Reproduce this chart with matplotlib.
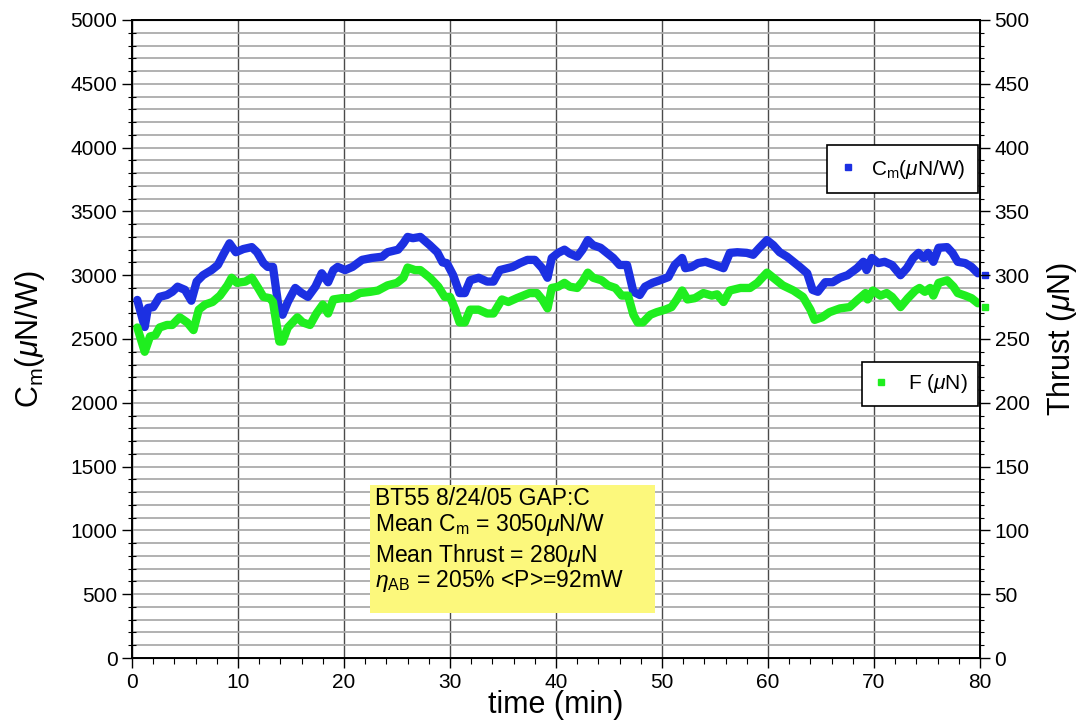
import numpy as np
import matplotlib
matplotlib.use('Agg')
import matplotlib.pyplot as plt
from matplotlib.lines import Line2D
from matplotlib.patches import Rectangle
from matplotlib.ticker import MultipleLocator

plt.rcParams['font.family'] = ['Liberation Sans', 'DejaVu Sans']
plt.rcParams['mathtext.fontset'] = 'custom'
plt.rcParams['mathtext.rm'] = 'Liberation Sans'
plt.rcParams['mathtext.it'] = 'Liberation Sans:italic'

# C_m (uN/W) vs time (min)
cm_time = [0.5, 1.2, 1.5, 2.0, 2.6, 3.3, 3.8, 4.3, 5.0, 5.6, 6.1, 6.7, 7.5, 8.1, 8.6, 9.2, 9.8,
           10.5, 11.3, 11.8, 12.4, 12.8, 13.3, 13.8, 14.2, 14.7, 15.4, 16.0, 16.6, 17.3, 17.9,
           18.5, 19.0, 19.4, 20.1, 20.8, 21.7, 22.6, 23.6, 24.1, 25.1, 25.6, 26.0, 26.5, 27.2,
           28.1, 28.8, 29.3, 29.7, 30.3, 30.9, 31.4, 31.9, 32.7, 33.5, 34.1, 34.7, 35.4, 35.9,
           36.6, 37.3, 38.0, 38.7, 39.2, 39.6, 40.2, 40.8, 41.3, 42.0, 42.5, 43.0, 43.5, 44.2,
           44.8, 45.4, 46.0, 46.7, 47.3, 47.9, 48.4, 49.1, 49.8, 50.6, 51.2, 51.9, 52.2, 52.8,
           53.4, 54.1, 55.0, 55.8, 56.4, 57.1, 58.0, 58.6, 59.2, 59.9, 60.5, 61.1, 61.8, 62.4,
           63.0, 63.7, 64.2, 64.7, 65.4, 66.1, 66.8, 67.5, 68.4, 69.0, 69.3, 69.8, 70.4, 71.0,
           71.7, 72.5, 73.1, 73.7, 74.2, 74.7, 75.1, 75.6, 76.1, 76.9, 77.4, 77.9, 78.6, 79.2, 79.8]
cm_vals = [2806, 2594, 2743, 2750, 2830, 2845, 2870, 2910, 2885, 2800, 2950, 3000, 3040, 3080, 3160, 3250, 3180,
           3205, 3220, 3180, 3095, 3065, 3065, 2765, 2690, 2790, 2900, 2860, 2830, 2910, 3015,
           2945, 3040, 3065, 3040, 3065, 3120, 3135, 3145, 3180, 3200, 3250, 3300, 3290, 3300,
           3235, 3180, 3100, 3095, 3000, 2860, 2860, 2960, 2980, 2950, 2950, 3040, 3055, 3065,
           3095, 3120, 3120, 3055, 2980, 3135, 3175, 3200, 3170, 3145, 3200, 3275, 3235, 3215,
           3175, 3135, 3080, 3080, 2870, 2845, 2910, 2940, 2960, 2985, 3080, 3135, 3055, 3065,
           3095, 3105, 3080, 3055, 3175, 3180, 3175, 3160, 3215, 3275, 3235, 3180, 3145, 3105,
           3065, 3015, 2885, 2870, 2945, 2945, 2980, 3000, 3055, 3105, 3040, 3135, 3095, 3105,
           3080, 3000, 3055, 3135, 3175, 3135, 3175, 3105, 3215, 3220, 3175, 3105, 3095, 3065, 3015]

# thrust F (uN) vs time (min)
f_time = [0.5, 1.2, 1.7, 2.2, 2.6, 3.3, 3.8, 4.5, 5.2, 5.8, 6.3, 6.9, 7.6, 8.3, 9.0, 9.4, 9.9,
          10.7, 11.3, 11.9, 12.4, 13.0, 13.3, 13.9, 14.2, 14.7, 15.6, 16.1, 16.8, 17.4, 18.0,
          18.5, 19.0, 19.8, 20.6, 21.5, 22.5, 23.2, 24.1, 25.0, 25.6, 26.0, 26.7, 27.2, 28.1,
          28.9, 29.5, 30.0, 30.5, 30.9, 31.4, 31.9, 32.7, 33.5, 34.1, 34.9, 35.5, 36.3, 36.9,
          37.5, 38.2, 38.7, 39.2, 39.6, 40.2, 40.8, 41.3, 42.0, 42.5, 43.0, 43.5, 44.3, 44.9,
          45.6, 46.2, 46.8, 47.3, 47.7, 48.2, 48.9, 49.5, 50.3, 50.9, 51.4, 51.9, 52.4, 53.1,
          53.9, 54.7, 55.2, 55.8, 56.4, 57.4, 58.3, 59.0, 59.9, 60.5, 61.4, 62.4, 63.3, 64.0,
          64.4, 65.1, 65.8, 66.8, 67.7, 68.5, 69.2, 69.4, 69.9, 70.6, 71.2, 71.7, 72.5, 73.2,
          73.9, 74.3, 74.8, 75.3, 75.6, 76.1, 76.9, 77.5, 77.9, 78.6, 79.2, 79.8]
f_vals = [259, 240, 252, 253, 259, 261, 261, 267, 263, 257, 273, 277, 279, 284, 292, 298, 294,
          295, 298, 290, 283, 282, 279, 248, 248, 259, 267, 263, 261, 270, 277,
          270, 281, 282, 282, 286, 287, 288, 292, 294, 298, 306, 304, 304, 298,
          291, 283, 283, 273, 263, 263, 273, 273, 270, 270, 281, 279, 282, 284,
          286, 286, 281, 274, 290, 291, 294, 291, 290, 295, 302, 298, 296, 292,
          290, 284, 284, 269, 263, 263, 269, 271, 273, 275, 281, 288, 281, 282,
          286, 284, 285, 279, 288, 290, 290, 294, 302, 298, 292, 288, 283, 273,
          265, 267, 271, 274, 275, 281, 286, 281, 288, 284, 286, 283, 275, 282,
          288, 290, 287, 290, 284, 294, 296, 291, 286, 284, 282, 278]

# last points, drawn as markers at the right edge
end_time = 80.5
cm_end = 3000
f_end = 275

note_lines = ['BT55 8/24/05 GAP:C',
              r'Mean C$_\mathrm{m}$ = 3050$\mu$N/W',
              r'Mean Thrust = 280$\mu$N',
              r'$\eta_\mathrm{AB}$ = 205% <P>=92mW']

blue = '#1c30e2'
green = '#1fee1f'

fig = plt.figure(figsize=(10.81, 7.23), dpi=100)
ax1 = fig.add_axes([132/1081, 1 - 658/723, 848/1081, 638/723])
ax2 = ax1.twinx()

ax1.set_xlim(0, 80)
ax1.set_ylim(0, 5000)
ax2.set_ylim(0, 500)

ax1.xaxis.set_major_locator(MultipleLocator(10))
ax1.xaxis.set_minor_locator(MultipleLocator(2))
ax1.yaxis.set_major_locator(MultipleLocator(500))
ax1.yaxis.set_minor_locator(MultipleLocator(100))
ax2.yaxis.set_major_locator(MultipleLocator(50))
ax2.yaxis.set_minor_locator(MultipleLocator(10))

# grid
ax1.grid(True, axis='y', which='both', color='#ababab', lw=1.3)
ax1.grid(True, axis='x', which='major', color='#4a4a4a', lw=1.0)
ax1.set_axisbelow(True)

ax1.plot(cm_time, cm_vals, color=blue, lw=6, solid_joinstyle='round', solid_capstyle='round')
ax2.plot(f_time, f_vals, color=green, lw=6, solid_joinstyle='round', solid_capstyle='round')
ax1.plot([end_time], [cm_end], 's', color=blue, ms=4, clip_on=False)
ax2.plot([end_time], [f_end], 's', color=green, ms=4, clip_on=False)

for sp in ax2.spines.values():
    sp.set_linewidth(1.4)

ax1.tick_params(which='major', direction='out', length=7, width=1, labelsize=15)
ax1.tick_params(axis='y', which='minor', direction='inout', length=6, width=0.8)
ax1.tick_params(axis='x', which='minor', direction='out', length=4, width=0.8)
ax2.tick_params(which='major', direction='out', length=7, width=1, labelsize=15)
ax2.tick_params(which='minor', direction='out', length=3, width=0.8)

ax1.set_xlabel('time (min)', fontsize=22)
ax1.set_ylabel(r'C$_\mathrm{m}$($\mu$N/W)', fontsize=22)
ax2.set_ylabel(r'Thrust ($\mu$N)', fontsize=22)
ax1.xaxis.set_label_coords(0.5, -0.05)
ax1.yaxis.set_label_coords(-0.1, 0.5)
ax2.yaxis.set_label_coords(1.077, 0.5)

# note box
ax2.add_patch(Rectangle((0.281, 0.0705), 0.336, 0.2005, transform=ax2.transAxes,
                        facecolor='#fcf87c', edgecolor='none', zorder=3))
note_y = [0.250, 0.210, 0.160, 0.121]
for line, ny in zip(note_lines, note_y):
    ax2.text(0.287, ny, line, transform=ax2.transAxes, fontsize=16.5, va='center', ha='left', zorder=4)

# legends
h1 = Line2D([], [], marker='s', color=blue, ls='none', ms=4)
h2 = Line2D([], [], marker='s', color=green, ls='none', ms=4)
leg1 = ax2.legend([h1], [r'C$_\mathrm{m}$($\mu$N/W)'], loc='upper right', bbox_to_anchor=(0.998, 0.804),
                  fancybox=False, edgecolor='black', framealpha=1, fontsize=15, handlelength=0.8,
                  handletextpad=0.7, borderpad=0.6, borderaxespad=0)
leg1.get_frame().set_linewidth(1.2)
ax2.add_artist(leg1)
leg2 = ax2.legend([h2], [r'F ($\mu$N)'], loc='upper right', bbox_to_anchor=(0.998, 0.464),
                  fancybox=False, edgecolor='black', framealpha=1, fontsize=15, handlelength=0.8,
                  handletextpad=0.9, borderpad=0.5, borderaxespad=0)
leg2.get_frame().set_linewidth(1.2)

fig.savefig('out.png', dpi=100)
